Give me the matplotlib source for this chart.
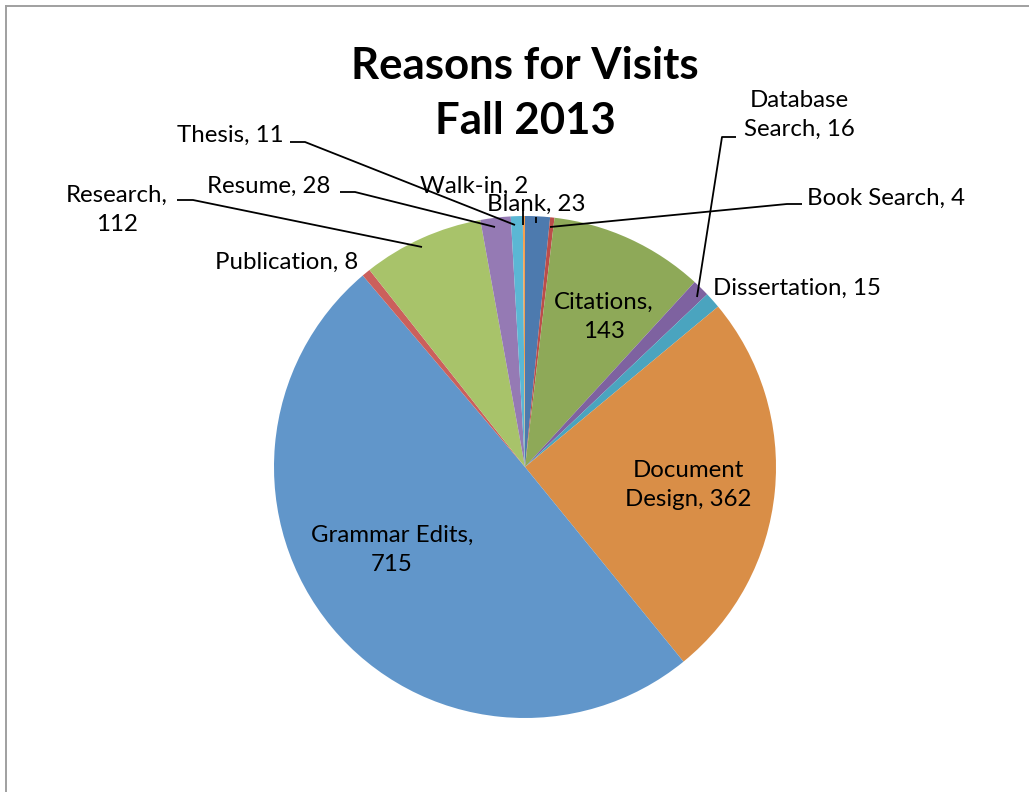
import matplotlib
matplotlib.use("Agg")
import matplotlib.pyplot as plt
from matplotlib.lines import Line2D

# ---- data ----
categories = ["Blank", "Book Search", "Citations", "Database Search", "Dissertation",
              "Document Design", "Grammar Edits", "Publication", "Research",
              "Resume", "Thesis", "Walk-in"]
values = [23, 4, 143, 16, 15, 362, 715, 8, 112, 28, 11, 2]
colors = ["#4D7AAE", "#BB4D4A", "#8EA958", "#7E62A0", "#4AA4BF", "#D98E47",
          "#6196CA", "#CB605C", "#A8C36A", "#957AB4", "#5BB7D4", "#F5A04F"]
title_lines = ["Reasons for Visits", "Fall 2013"]

W, H = 1029, 792
FONT = "Lato"

fig = plt.figure(figsize=(W / 100, H / 100), dpi=100)
ax = fig.add_axes([0, 0, 1, 1])


def Y(p):
    return H - p


# frame
fig.add_artist(Line2D([6 / W, 6 / W], [0, 1 - 6 / H], transform=fig.transFigure,
                      color="#A0A0A0", lw=1.4))
fig.add_artist(Line2D([6 / W, 1], [1 - 6 / H, 1 - 6 / H], transform=fig.transFigure,
                      color="#A0A0A0", lw=1.4))

# pie
cx, cy, r = 525, 467, 251
ax.pie(values, colors=colors, startangle=90, counterclock=False,
       center=(cx, Y(cy)), radius=r, frame=True,
       wedgeprops=dict(linewidth=0))
ax.set_xlim(0, W)
ax.set_ylim(0, H)
ax.set_aspect("equal")
ax.axis("off")

# title
ax.text(525, Y(66), title_lines[0], ha="center", va="center", fontsize=31.5,
        fontweight="bold", family=FONT)
ax.text(525, Y(121), title_lines[1], ha="center", va="center", fontsize=31.5,
        fontweight="bold", family=FONT)

fs = 17.3
labels = {
    "Blank": (536, 204),
    "Book Search": (886, 198),
    "Citations": (604, 317),
    "Database Search": (799, 115),
    "Dissertation": (797, 288),
    "Document Design": (688, 485),
    "Grammar Edits": (392, 550),
    "Publication": (287, 262),
    "Research": (117, 210),
    "Resume": (269, 186),
    "Thesis": (230, 135),
    "Walk-in": (474, 186),
}
twoline = {"Citations", "Grammar Edits", "Research"}
for name, v in zip(categories, values):
    x, y = labels[name]
    if name in ("Database Search", "Document Design"):
        a, b = name.split(" ")
        s = "%s\n%s, %d" % (a, b, v)
    elif name in twoline:
        s = "%s,\n%d" % (name, v)
    else:
        s = "%s, %d" % (name, v)
    ax.text(x, Y(y), s, ha="center", va="center", fontsize=fs, family=FONT,
            linespacing=1.45, color="black")

# leader lines
leaders = [
    [(736, 137), (722, 137), (697, 297)],   # Database Search
    [(802, 204), (787, 204), (550, 227)],   # Book Search
    [(177, 200), (193, 200), (422, 247)],   # Research
    [(340, 192), (355, 192), (495, 227)],   # Resume
    [(290, 142), (305, 142), (515, 225)],   # Thesis
    [(523, 203), (523, 225)],               # Walk-in
    [(536, 217), (536, 223)],               # Blank
]
for pts in leaders:
    xs = [p[0] for p in pts]
    ys = [Y(p[1]) for p in pts]
    ax.plot(xs, ys, color="black", lw=1.3, solid_capstyle="butt")

fig.savefig("out.png", dpi=100)
